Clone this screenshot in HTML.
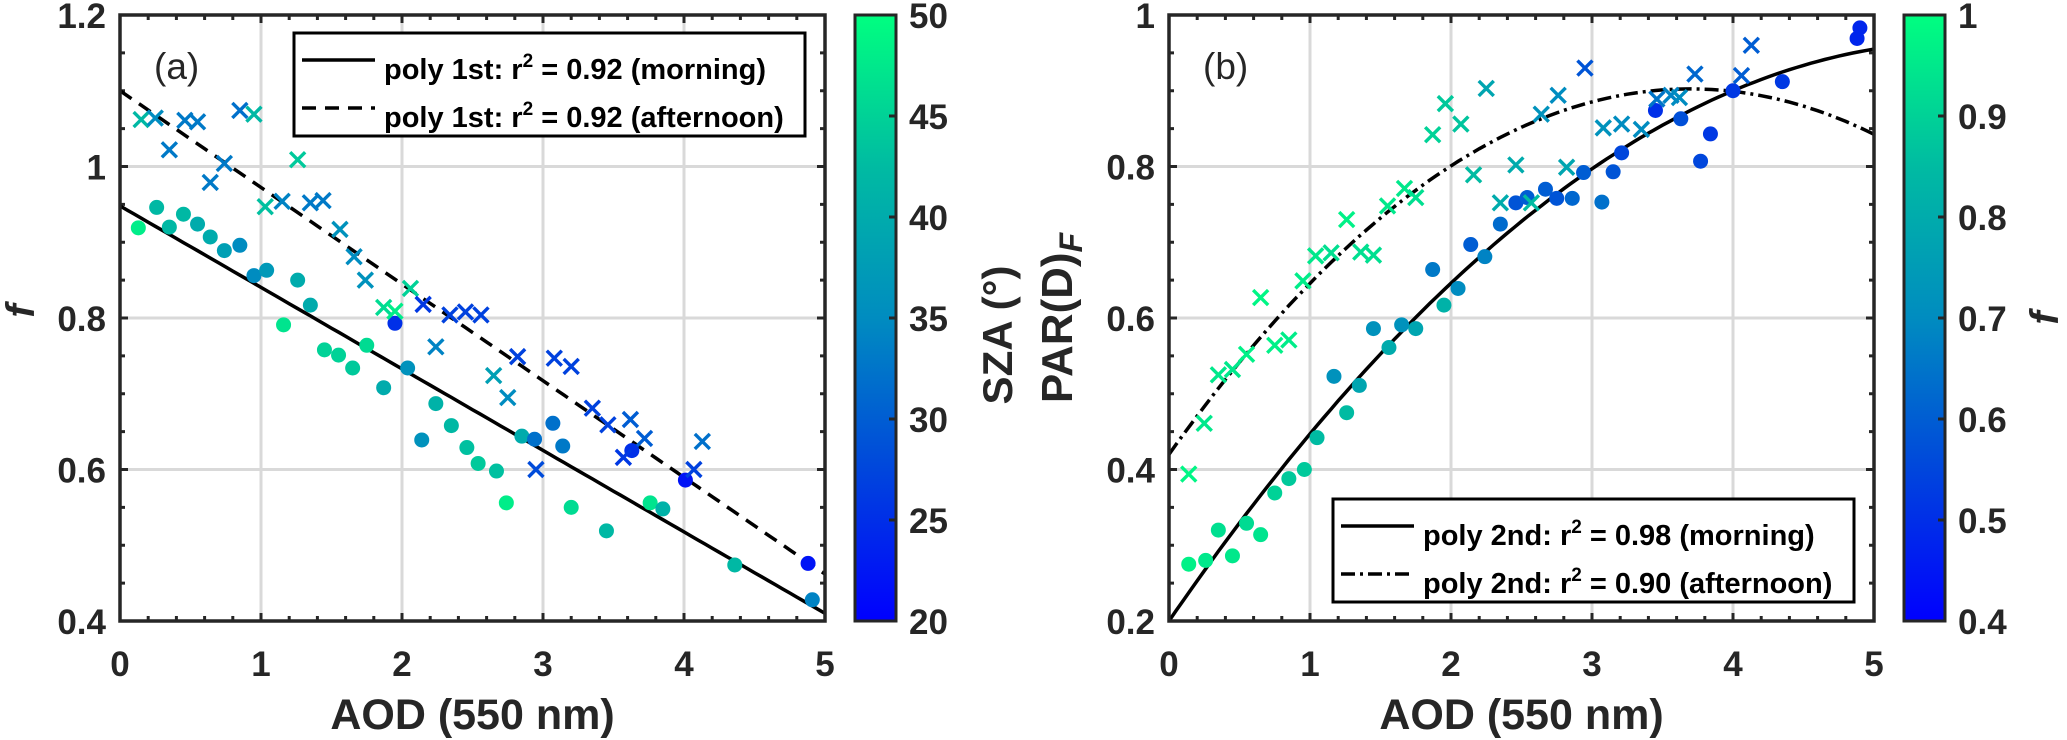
<!DOCTYPE html>
<html><head><meta charset="utf-8"><style>
html,body{margin:0;padding:0;background:#fff;}
svg{display:block;font-family:"Liberation Sans",Arial,sans-serif;}
</style></head><body>
<svg id="fig" width="2067" height="740" viewBox="0 0 2067 740" xmlns="http://www.w3.org/2000/svg">
<defs>
<linearGradient id="cmap" x1="0" y1="1" x2="0" y2="0">
<stop offset="0" stop-color="#0000FF"/><stop offset="0.25" stop-color="#0046DC"/><stop offset="0.5" stop-color="#008CC0"/><stop offset="0.75" stop-color="#00BBA2"/><stop offset="1" stop-color="#00FF80"/>
</linearGradient>
</defs>
<g id="gA"></g>
<g id="gB"></g>
</svg>
<script>
// ---- Panel (a) data ----
const aMornX=[0.13,0.26,0.35,0.45,0.55,0.64,0.74,0.85,0.95,1.04,1.16,1.26,1.35,1.45,1.55,1.65,1.75,1.87,1.95,2.04,2.14,2.24,2.35,2.46,2.54,2.67,2.74,2.85,2.94,3.07,3.14,3.2,3.45,3.63,3.76,3.85,4.01,4.36,4.88,4.91];
const aMornY=[0.919,0.946,0.92,0.937,0.924,0.907,0.889,0.896,0.856,0.863,0.791,0.85,0.817,0.758,0.751,0.734,0.764,0.708,0.793,0.734,0.639,0.687,0.658,0.629,0.608,0.598,0.556,0.644,0.64,0.661,0.631,0.55,0.519,0.625,0.556,0.548,0.586,0.474,0.476,0.428];
const aMornC=[48,42,42,42,40,40,38,35,35,37,47,40,40,45,45,44,46,40,25,36,36,41,42,43,44,43,48,40,32,32,33,46,42,25,47,41,22,42,22,34];
const aAftX=[0.15,0.25,0.35,0.46,0.55,0.64,0.74,0.85,0.95,1.03,1.15,1.26,1.35,1.44,1.56,1.66,1.74,1.87,1.95,2.06,2.15,2.24,2.34,2.45,2.56,2.65,2.75,2.82,2.95,3.08,3.2,3.35,3.46,3.62,3.57,3.72,4.07,4.13];
const aAftY=[1.062,1.064,1.022,1.061,1.059,0.979,1.004,1.074,1.069,0.947,0.954,1.009,0.952,0.955,0.917,0.881,0.85,0.814,0.809,0.839,0.818,0.762,0.804,0.808,0.804,0.724,0.695,0.749,0.6,0.747,0.736,0.681,0.659,0.666,0.616,0.641,0.6,0.637];
const aAftC=[42,35,33,33,33,33,33,32,42,43,34,44,33,33,36,35,36,46,48,45,26,34,27,27,27,38,35,27,28,27,27,27,27,30,26,30,27,32];
const aFitMorn=[0.948,-0.1076];
const aFitAft=[1.10,-0.1276];
const aXTicks=[0,1,2,3,4,5];
const aYTicks=[0.4,0.6,0.8,1,1.2];
const aYTickLabels=["0.4","0.6","0.8","1","1.2"];
const aCbTicks=[20,25,30,35,40,45,50];
// ---- Panel (b) data ----
const bMornX=[0.14,0.26,0.35,0.45,0.55,0.65,0.75,0.85,0.96,1.05,1.17,1.26,1.35,1.45,1.56,1.65,1.75,1.87,1.95,2.05,2.14,2.24,2.35,2.46,2.54,2.67,2.75,2.86,2.94,3.07,3.15,3.21,3.45,3.63,3.77,3.84,4.0,4.35,4.88,4.9];
const bMornY=[0.275,0.28,0.32,0.286,0.329,0.314,0.369,0.388,0.4,0.442,0.523,0.475,0.511,0.586,0.561,0.591,0.586,0.664,0.617,0.639,0.697,0.681,0.724,0.752,0.759,0.77,0.758,0.758,0.792,0.753,0.793,0.818,0.874,0.863,0.807,0.843,0.9,0.912,0.969,0.983];
const bMornC=[0.97,0.95,0.93,0.95,0.92,0.94,0.9,0.88,0.88,0.85,0.72,0.85,0.78,0.72,0.8,0.72,0.78,0.66,0.82,0.7,0.6,0.68,0.63,0.58,0.6,0.6,0.58,0.62,0.6,0.64,0.58,0.55,0.5,0.57,0.55,0.52,0.52,0.52,0.48,0.48];
const bAftX=[0.14,0.25,0.35,0.45,0.55,0.65,0.75,0.85,0.95,1.04,1.15,1.26,1.36,1.45,1.55,1.67,1.75,1.87,1.96,2.07,2.16,2.25,2.35,2.46,2.57,2.64,2.76,2.82,2.95,3.08,3.21,3.35,3.46,3.56,3.62,3.73,4.06,4.13];
const bAftY=[0.394,0.461,0.525,0.532,0.552,0.627,0.564,0.571,0.649,0.682,0.686,0.73,0.687,0.683,0.748,0.771,0.759,0.842,0.883,0.856,0.789,0.903,0.752,0.802,0.752,0.869,0.894,0.799,0.93,0.851,0.856,0.849,0.889,0.894,0.891,0.922,0.92,0.96];
const bAftC=[0.98,0.95,0.95,0.95,0.97,0.98,0.97,0.96,0.96,0.95,0.93,0.97,0.93,0.93,0.95,0.95,0.93,0.9,0.88,0.87,0.85,0.78,0.8,0.8,0.85,0.72,0.7,0.78,0.58,0.72,0.7,0.7,0.65,0.68,0.7,0.62,0.6,0.6];
const bFitMorn=[0.2,0.271,-0.024];
const bFitAft=[0.42,0.261,-0.0353];
const bXTicks=[0,1,2,3,4,5];
const bYTicks=[0.2,0.4,0.6,0.8,1];
const bYTickLabels=["0.2","0.4","0.6","0.8","1"];
const bCbTicks=[0.4,0.5,0.6,0.7,0.8,0.9,1];
const bCbTickLabels=["0.4","0.5","0.6","0.7","0.8","0.9","1"];

const NS="http://www.w3.org/2000/svg";
function mk(parent,tag,attrs,text){const e=document.createElementNS(NS,tag);for(const k in attrs)e.setAttribute(k,attrs[k]);if(text!==undefined)e.textContent=text;parent.appendChild(e);return e;}
const stops=[[0,[0,0,255]],[0.25,[0,70,220]],[0.5,[0,140,192]],[0.75,[0,187,162]],[1,[0,255,128]]];
function cmap(t){t=Math.max(0,Math.min(1,t));for(let i=1;i<stops.length;i++){if(t<=stops[i][0]){const a=stops[i-1],b=stops[i];const u=(t-a[0])/(b[0]-a[0]);const c=a[1].map((v,j)=>Math.round(v+(b[1][j]-v)*u));return`rgb(${c[0]},${c[1]},${c[2]})`;}}return"rgb(0,255,128)";}

const TOP=15,BOT=621,W=705;
function panel(g,L,ymin,ymax,yTicks,yLabels,minorStep,mX,mY,mC,aX,aY,aC,cmin,cmax,fitM,fitA,dashA,legendBox,legTexts,letter,cbL,cbTicks,cbLabels){
  const sx=v=>L+v/5*W, sy=v=>BOT-(v-ymin)/(ymax-ymin)*(BOT-TOP);
  for(const t of [1,2,3,4]){const l=mk(g,'line',{x1:sx(t),x2:sx(t),y1:TOP,y2:BOT,stroke:'#d9d9d9','stroke-width':3});
    
    }
  for(const t of yTicks){if(t===ymin||t===ymax)continue;const l=mk(g,'line',{x1:L,x2:L+W,y1:sy(t),y2:sy(t),stroke:'#d9d9d9','stroke-width':3});
    
    }
  for(let v=0;v<=5.0001;v+=0.2){const major=Math.abs(v-Math.round(v))<1e-6;const len=major?8:5;
    mk(g,'line',{x1:sx(v),x2:sx(v),y1:BOT,y2:BOT-len,stroke:'#262626','stroke-width':3});
    mk(g,'line',{x1:sx(v),x2:sx(v),y1:TOP,y2:TOP+len,stroke:'#262626','stroke-width':3});}
  for(let v=ymin;v<=ymax+1e-6;v+=minorStep){const major=yTicks.some(t=>Math.abs(t-v)<1e-6);const len=major?8:5;
    mk(g,'line',{x1:L,x2:L+len,y1:sy(v),y2:sy(v),stroke:'#262626','stroke-width':3});
    mk(g,'line',{x1:L+W,x2:L+W-len,y1:sy(v),y2:sy(v),stroke:'#262626','stroke-width':3});}
  const fit=(c,x)=>c.reduce((s,k,i)=>s+k*Math.pow(x,i),0);
  function curve(c,dash,name){let d='';for(let i=0;i<=100;i++){const x=i*0.05;let y=fit(c,x);d+=(i?'L':'M')+sx(x).toFixed(1)+','+sy(y).toFixed(1);}
    const p=mk(g,'path',{d:d,fill:'none',stroke:'#000','stroke-width':3.5,'stroke-dasharray':dash});
    
    }
  curve(fitM,'none','fit-line-morning');
  curve(fitA,dashA,'fit-line-afternoon');
  for(let i=0;i<mX.length;i++){const c=mk(g,'circle',{cx:sx(mX[i]),cy:sy(mY[i]),r:7.5,fill:cmap((mC[i]-cmin)/(cmax-cmin))});
    
    }
  for(let i=0;i<aX.length;i++){const x=sx(aX[i]),y=sy(aY[i]),s=7.5;const col=cmap((aC[i]-cmin)/(cmax-cmin));
    const p=mk(g,'path',{d:`M${x-s},${y-s}L${x+s},${y+s}M${x-s},${y+s}L${x+s},${y-s}`,stroke:col,'stroke-width':3.4,fill:'none'});
    
    }
  const box=mk(g,'rect',{x:L,y:TOP,width:W,height:BOT-TOP,fill:'none',stroke:'#262626','stroke-width':3.5});
  
  
  for(const t of [0,1,2,3,4,5]){const tx=mk(g,'text',{x:sx(t),y:676,'text-anchor':'middle','font-size':35,'font-weight':'bold',fill:'#262626'},String(t));
    
    }
  yTicks.forEach((t,i)=>{const tx=mk(g,'text',{x:L-14,y:sy(t)+13,'text-anchor':'end','font-size':35,'font-weight':'bold',fill:'#262626'},yLabels[i]);
    
    });
  const xt=mk(g,'text',{x:L+W/2,y:729,'text-anchor':'middle','font-size':43,'font-weight':'bold',fill:'#262626'},'AOD (550 nm)');
  
  
  const lt=mk(g,'text',{x:L+34,y:TOP+64,'font-size':37,fill:'#262626'},letter);
  
  
  const lg=mk(g,'g',{});
  
  
  mk(lg,'rect',{x:legendBox[0],y:legendBox[1],width:legendBox[2]-legendBox[0],height:legendBox[3]-legendBox[1],fill:'#fff',stroke:'#000','stroke-width':3});
  const lx=legendBox[0]+8;
  [[0,'none'],[1,dashA]].forEach(([k,dash])=>{const yy=legendBox[1]+27+k*48;
    mk(lg,'line',{x1:lx,x2:lx+73,y1:yy,y2:yy,stroke:'#000','stroke-width':3.5,'stroke-dasharray':dash});
    const t=mk(lg,'text',{x:lx+82,y:yy+19,'font-size':29,'font-weight':'bold',fill:'#000'});
    
    
    mk(t,'tspan',{},legTexts[k][0]);mk(t,'tspan',{dy:-12,'font-size':19},'2');mk(t,'tspan',{dy:12},legTexts[k][1]);});
  const cb=mk(g,'rect',{x:cbL,y:TOP,width:41,height:BOT-TOP,fill:'url(#cmap)',stroke:'#262626','stroke-width':3});
  
  
  cbTicks.forEach((t,i)=>{const y=BOT-(t-cbTicks[0])/(cbTicks[cbTicks.length-1]-cbTicks[0])*(BOT-TOP);
    if(i>0&&i<cbTicks.length-1)mk(g,'line',{x1:cbL+41,x2:cbL+34,y1:y,y2:y,stroke:'#262626','stroke-width':3});
    const tx=mk(g,'text',{x:cbL+54,y:y+13,'font-size':35,'font-weight':'bold',fill:'#262626'},cbLabels[i]);
    
    });
}
const gA=document.getElementById('gA'),gB=document.getElementById('gB');
panel(gA,120,0.4,1.2,aYTicks,aYTickLabels,0.05,aMornX,aMornY,aMornC,aAftX,aAftY,aAftC,20,50,aFitMorn,aFitAft,'14,9',[294,33,805,136],[['poly 1st: r',' = 0.92 (morning)'],['poly 1st: r',' = 0.92 (afternoon)']],'(a)',855,aCbTicks,aCbTicks.map(String));
panel(gB,1169,0.2,1.0,bYTicks,bYTickLabels,0.05,bMornX,bMornY,bMornC,bAftX,bAftY,bAftC,0.4,1.0,bFitMorn,bFitAft,'14,5,3,5',[1333,499,1854,602],[['poly 2nd: r',' = 0.98 (morning)'],['poly 2nd: r',' = 0.90 (afternoon)']],'(b)',1904,bCbTicks,bCbTickLabels);
const svg=document.getElementById('fig');
const fa=mk(svg,'text',{x:0,y:0,transform:'translate(34,311) rotate(-90)','text-anchor':'middle','font-size':40,'font-weight':'bold','font-style':'italic',fill:'#262626'},'f');


const sz=mk(svg,'text',{x:0,y:0,transform:'translate(1012,335) rotate(-90)','text-anchor':'middle','font-size':42,'font-weight':'bold',fill:'#262626'},'SZA (°)');


const pd=mk(svg,'text',{x:0,y:0,transform:'translate(1072,318) rotate(-90)','text-anchor':'middle','font-size':44,'font-weight':'bold',fill:'#262626'});


mk(pd,'tspan',{},'PAR(D)');mk(pd,'tspan',{dy:10,'font-size':32,'font-style':'italic'},'F');
const fb=mk(svg,'text',{x:0,y:0,transform:'translate(2058,318) rotate(-90)','text-anchor':'middle','font-size':40,'font-weight':'bold','font-style':'italic',fill:'#262626'},'f');


</script>
</body></html>
